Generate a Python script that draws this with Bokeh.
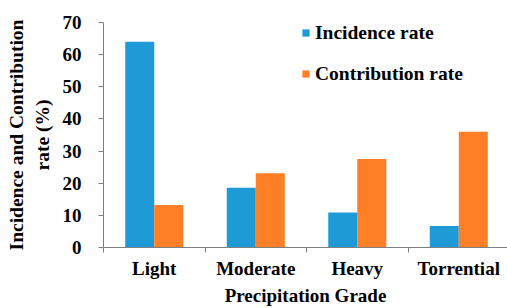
from bokeh.plotting import figure
from bokeh.models import Range1d, FixedTicker, ColumnDataSource, Legend, LegendItem
from bokeh.embed import file_html
from bokeh.resources import INLINE
import numpy as np

categories = ["Light", "Moderate", "Heavy", "Torrential"]
incidence = [64.0, 18.6, 10.9, 6.7]
contribution = [13.2, 23.1, 27.5, 36.0]
y_ticks = [0, 10, 20, 30, 40, 50, 60, 70]

BLUE = "#1E9BD7"
ORANGE = "#FE7F26"
AXIS = "#808080"
FONT = "'Liberation Serif', 'Times New Roman', serif"

p = figure(width=507, height=308, output_backend="svg", toolbar_location=None,
           x_range=Range1d(0, 3.98), y_range=Range1d(0, 70),
           min_border_left=103, min_border_right=0, min_border_top=22, min_border_bottom=59)
p.outline_line_color = None
p.grid.visible = False

idx = np.arange(len(categories))
bw = 0.286
src = ColumnDataSource(dict(xb=idx + 0.5 - bw / 2, xo=idx + 0.5 + bw / 2,
                            inc=incidence, con=contribution))
r1 = p.vbar(x="xb", top="inc", width=bw, source=src, fill_color=BLUE, line_color=None)
r2 = p.vbar(x="xo", top="con", width=bw, source=src, fill_color=ORANGE, line_color=None)

# x axis
xa = p.xaxis[0]
xa.ticker = FixedTicker(ticks=list(idx + 0.5), minor_ticks=list(range(len(categories) + 1)))
xa.major_label_overrides = {float(i + 0.5): c for i, c in enumerate(categories)}
xa.major_tick_line_color = None
xa.major_tick_out = 0
xa.major_tick_in = 0
xa.minor_tick_out = 5
xa.minor_tick_in = 0
xa.minor_tick_line_color = AXIS
xa.axis_line_color = AXIS
xa.major_label_standoff = 5
xa.major_label_text_font = FONT
xa.major_label_text_font_style = "bold"
xa.major_label_text_font_size = "19px"
xa.major_label_text_color = "black"
xa.axis_label = "Precipitation Grade"
xa.axis_label_text_font = FONT
xa.axis_label_text_font_style = "bold"
xa.axis_label_text_font_size = "19px"
xa.axis_label_text_color = "black"
xa.axis_label_standoff = 3

# y axis
ya = p.yaxis[0]
ya.ticker = FixedTicker(ticks=y_ticks)
ya.minor_tick_line_color = None
ya.major_tick_out = 5
ya.major_tick_in = 0
ya.major_tick_line_color = AXIS
ya.axis_line_color = AXIS
ya.major_label_standoff = 17
ya.major_label_text_font = FONT
ya.major_label_text_font_style = "bold"
ya.major_label_text_font_size = "19px"
ya.major_label_text_color = "black"
ya.axis_label = "Incidence and Contribution\nrate (%)"
ya.axis_label_text_font = FONT
ya.axis_label_text_font_style = "bold"
ya.axis_label_text_font_size = "19.5px"
ya.axis_label_text_color = "black"
ya.axis_label_standoff = 7

legend = Legend(items=[LegendItem(label="Incidence rate", renderers=[r1]),
                       LegendItem(label="Contribution rate", renderers=[r2])],
                location=(198, 162), orientation="vertical",
                glyph_width=9, glyph_height=9, label_standoff=5,
                label_height=23, spacing=18, padding=0, margin=0,
                border_line_color=None, background_fill_alpha=0,
                label_text_font=FONT, label_text_font_style="bold",
                label_text_font_size="19.5px", label_text_color="black")
p.add_layout(legend, "center")

open("out.html", "w").write(file_html(p, INLINE))
